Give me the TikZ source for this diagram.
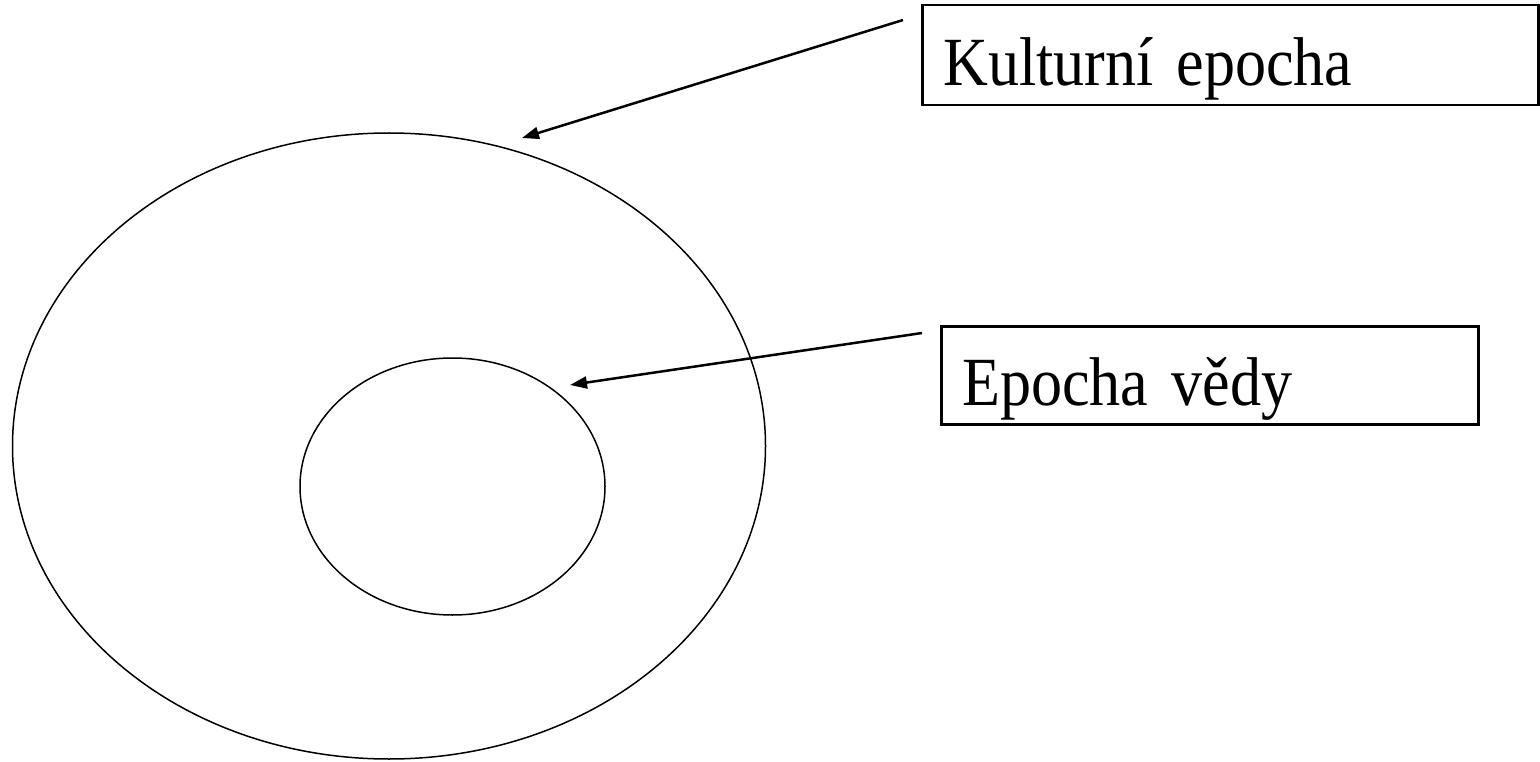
\documentclass[tikz,border=0pt]{standalone}
\usepackage{fontspec}
\setmainfont{Liberation Serif}[FakeStretch=0.9]
\usetikzlibrary{shapes.geometric}
\usetikzlibrary{arrows.meta}

\begin{document}
\begin{tikzpicture}[x=1pt, y=-1pt,
    ring/.style={ellipse, draw, line width=1.5pt, inner sep=0pt},
    labelbox/.style={draw, line width=2.5pt, anchor=north west, inner ysep=0pt,
        inner xsep=21pt, align=left, text height=66pt, text depth=6pt,
        font=\fontsize{69}{80}\selectfont},
    pointer/.style={line width=2.5pt, -{Triangle[length=17pt, width=12pt]}}]
        \useasboundingbox (0, 0) rectangle (1540, 762);
        \node (culture) at (389, 446) [ring, minimum width=753pt, minimum height=626pt] {};
        \node (science) at (452.5, 486.5) [ring, minimum width=305pt, minimum height=257pt] {};
        \node (culturebox) at (921, 4) [labelbox, minimum height=100pt, text width=574pt] {Kulturní epocha};
        \node (sciencebox) at (940, 325) [labelbox, minimum height=98pt, text width=495pt] {Epocha vědy};
        \coordinate (culturefrom) at (903, 20);
        \coordinate (cultureto) at (522, 138);
        \coordinate (sciencefrom) at (922, 333);
        \coordinate (scienceto) at (570, 385);
        \draw [pointer] (culturefrom) -- (cultureto);
        \draw [pointer] (sciencefrom) -- (scienceto);
    \end{tikzpicture}
\end{document}
